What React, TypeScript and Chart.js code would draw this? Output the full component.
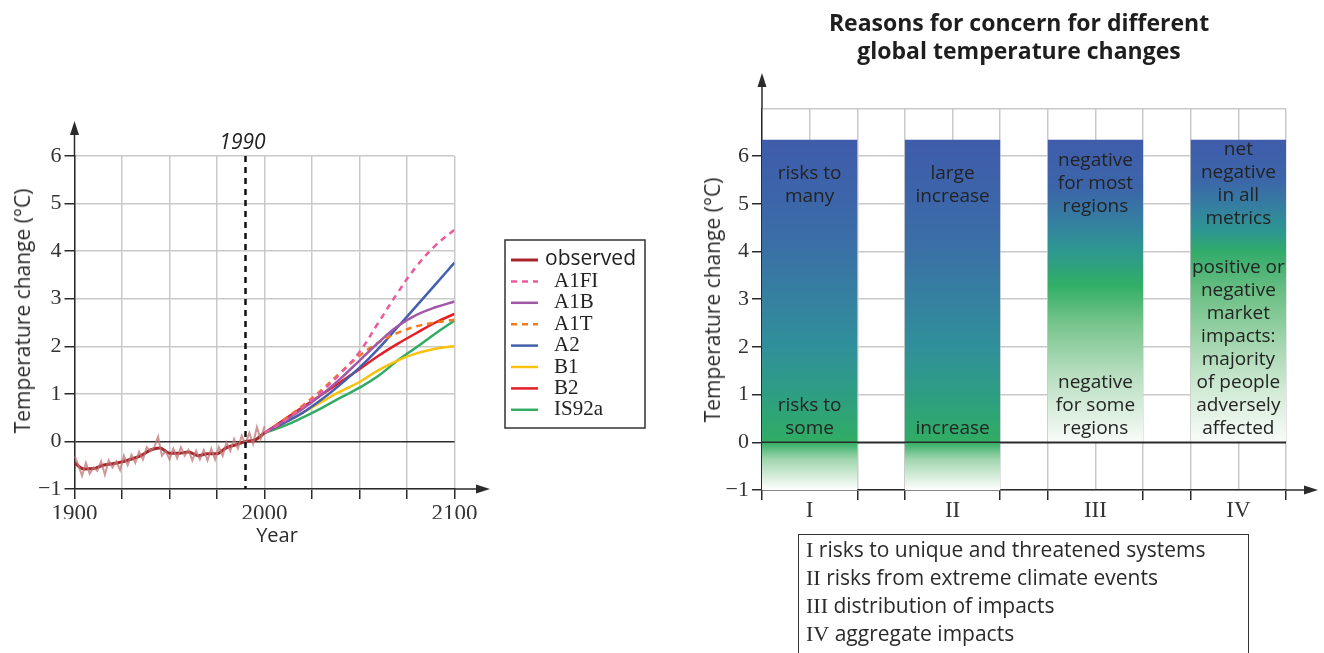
import React, { useEffect, useRef } from 'react';
import { Chart, registerables } from 'chart.js';

Chart.register(...registerables);

// ---------------- Left chart data ----------------
const OBS_ANNUAL_YEARS = [1900, 1902, 1904, 1906, 1908, 1910, 1912, 1914, 1916, 1918, 1920, 1922, 1924, 1926, 1928, 1930, 1932, 1934, 1936, 1938, 1940, 1942, 1944, 1946, 1948, 1950, 1952, 1954, 1956, 1958, 1960, 1962, 1964, 1966, 1968, 1970, 1972, 1974, 1976, 1978, 1980, 1982, 1984, 1986, 1988, 1990, 1992, 1994, 1996, 1998, 2000];
const OBS_ANNUAL = [-0.3, -0.5, -0.72, -0.45, -0.68, -0.55, -0.62, -0.42, -0.7, -0.4, -0.55, -0.42, -0.6, -0.3, -0.5, -0.28, -0.45, -0.22, -0.38, -0.12, -0.2, -0.12, 0.1, -0.3, -0.2, -0.38, -0.15, -0.35, -0.12, -0.3, -0.18, -0.4, -0.2, -0.38, -0.18, -0.4, -0.15, -0.38, -0.12, -0.3, -0.02, -0.2, 0.05, -0.15, 0.12, -0.05, 0.18, -0.05, 0.3, 0.05, 0.32];

const OBS_SMOOTH_YEARS = [1900, 1905, 1910, 1915, 1920, 1925, 1930, 1935, 1940, 1945, 1950, 1955, 1960, 1965, 1970, 1975, 1980, 1985, 1990, 1995, 2000];
const OBS_SMOOTH = [-0.45, -0.58, -0.57, -0.5, -0.47, -0.43, -0.37, -0.3, -0.18, -0.14, -0.25, -0.25, -0.22, -0.3, -0.26, -0.26, -0.13, -0.07, 0.0, 0.03, 0.18];

const PROJ_YEARS = [2000, 2010, 2020, 2030, 2040, 2050, 2060, 2070, 2080, 2090, 2100];
const A1FI = [0.18, 0.42, 0.72, 1.05, 1.43, 1.88, 2.5, 3.12, 3.68, 4.12, 4.45];
const A1B = [0.18, 0.42, 0.68, 0.98, 1.32, 1.7, 2.08, 2.42, 2.66, 2.82, 2.94];
const A1T = [0.18, 0.45, 0.75, 1.08, 1.45, 1.8, 2.08, 2.28, 2.42, 2.5, 2.56];
const A2 = [0.18, 0.38, 0.6, 0.88, 1.2, 1.55, 1.95, 2.4, 2.85, 3.3, 3.76];
const B1 = [0.18, 0.38, 0.6, 0.83, 1.05, 1.25, 1.5, 1.7, 1.85, 1.95, 2.0];
const B2 = [0.18, 0.45, 0.72, 0.98, 1.25, 1.52, 1.8, 2.05, 2.28, 2.5, 2.68];
const IS92A = [0.18, 0.32, 0.5, 0.7, 0.92, 1.13, 1.38, 1.7, 1.98, 2.27, 2.54];

const SCENARIO_NAMES = ['A1FI', 'A1B', 'A1T', 'A2', 'B1', 'B2', 'IS92a'];
const SCENARIO_VALUES = [A1FI, A1B, A1T, A2, B1, B2, IS92A];
const SCENARIO_COLORS = ['#ec5a9e', '#a357a8', '#f27a1c', '#4260ad', '#fbc20b', '#e51d25', '#32ab64'];
const SCENARIO_DASHED = [true, false, true, false, false, false, false];

const LEFT_LABELED_YEARS = [1900, 2000, 2100];
const REF_YEAR = 1990;

// ---------------- Right chart data ----------------
const CATEGORIES = ['I', 'II', 'III', 'IV'];
const BAR_HIGH = [6.34, 6.34, 6.34, 6.34];
const BAR_LOW = [-1, -1, 0, 0];
const BAR_UPPER_TEXT = [['risks to', 'many'], ['large', 'increase'], ['negative', 'for most', 'regions'], ['net', 'negative', 'in all', 'metrics']];
const BAR_UPPER_AT = [5.64, 5.64, 5.9, 6.13];
const BAR_LOWER_TEXT = [['risks to', 'some'], ['increase'], ['negative', 'for some', 'regions'], ['positive or', 'negative', 'market', 'impacts:', 'majority', 'of people', 'adversely', 'affected']];
const BAR_LOWER_AT = 0.29;
const CATEGORY_DESCRIPTIONS = ['risks to unique and threatened systems', 'risks from extreme climate events', 'distribution of impacts', 'aggregate impacts'];

// gradient stops (value, colour) per bar
const BAR_STOPS: [number, string][][] = [
  [[6.34, '#3f5cab'], [5, '#3c66a9'], [4, '#3a71a6'], [3, '#3581a0'], [2, '#30909a'], [1, '#2e9e82'], [0, '#30ad64'], [-0.35, '#9fd5ad'], [-1, '#ffffff']],
  [[6.34, '#3f5cab'], [5, '#3c66a9'], [4, '#3a71a6'], [3, '#3581a0'], [2, '#30909a'], [1, '#2e9e82'], [0, '#30ad64'], [-0.35, '#9fd5ad'], [-1, '#ffffff']],
  [[6.34, '#3f5cab'], [5.3, '#3c66a9'], [4.6, '#3480a0'], [4.0, '#2e9890'], [3.3, '#30ae66'], [2.5, '#76c48b'], [1.5, '#b3dcbc'], [0.5, '#e1f1e4'], [0, '#f9fcf9']],
  [[6.34, '#3f5cab'], [5.5, '#3c66a9'], [4.9, '#3480a0'], [4.4, '#2e9890'], [4.0, '#31ab6a'], [3.2, '#68be82'], [2, '#a7d7b1'], [1, '#d5ecd9'], [0, '#f9fcf9']],
];

const SANS = "'Open Sans', 'DejaVu Sans', sans-serif";
const SERIF = "'Liberation Serif', 'DejaVu Serif', serif";
const AXIS_COLOR = '#2b2b2b';
const GRID_COLOR = '#c9c9c9';

const BAR_POS = CATEGORIES.map((_, i) => 1 + 3 * i);

function arrowUp(ctx: CanvasRenderingContext2D, x: number, yFrom: number, yTip: number) {
  ctx.save();
  ctx.strokeStyle = AXIS_COLOR;
  ctx.fillStyle = AXIS_COLOR;
  ctx.lineWidth = 1.5;
  ctx.beginPath();
  ctx.moveTo(x, yFrom);
  ctx.lineTo(x, yTip + 10);
  ctx.stroke();
  ctx.beginPath();
  ctx.moveTo(x, yTip);
  ctx.lineTo(x - 4.5, yTip + 14);
  ctx.lineTo(x + 4.5, yTip + 14);
  ctx.closePath();
  ctx.fill();
  ctx.restore();
}

function arrowRight(ctx: CanvasRenderingContext2D, y: number, xFrom: number, xTip: number) {
  ctx.save();
  ctx.strokeStyle = AXIS_COLOR;
  ctx.fillStyle = AXIS_COLOR;
  ctx.lineWidth = 1.5;
  ctx.beginPath();
  ctx.moveTo(xFrom, y);
  ctx.lineTo(xTip - 10, y);
  ctx.stroke();
  ctx.beginPath();
  ctx.moveTo(xTip, y);
  ctx.lineTo(xTip - 14, y - 4.5);
  ctx.lineTo(xTip - 14, y + 4.5);
  ctx.closePath();
  ctx.fill();
  ctx.restore();
}

const fmtTick = (v: number) => (v < 0 ? '\u2212' + Math.abs(v) : String(v));

const leftDecor = {
  id: 'leftDecor',
  afterDatasetsDraw(chart: any) {
    const { ctx, chartArea, scales } = chart;
    const x = scales.x.getPixelForValue(REF_YEAR);
    ctx.save();
    ctx.strokeStyle = '#111';
    ctx.lineWidth = 2.5;
    ctx.setLineDash([6, 5]);
    ctx.beginPath();
    ctx.moveTo(x, chartArea.top);
    ctx.lineTo(x, chartArea.bottom);
    ctx.stroke();
    ctx.setLineDash([]);
    ctx.fillStyle = '#222';
    ctx.font = `italic 21px ${SANS}`;
    ctx.textAlign = 'center';
    ctx.textBaseline = 'middle';
    ctx.fillText(String(REF_YEAR), x - 3, chartArea.top - 13);
    ctx.restore();
  },
  afterDraw(chart: any) {
    const { ctx, chartArea } = chart;
    arrowUp(ctx, chartArea.left, chartArea.top, 121);
    arrowRight(ctx, chartArea.bottom, chartArea.right, 490);
    // legend
    ctx.save();
    ctx.strokeStyle = '#333';
    ctx.lineWidth = 1.5;
    ctx.strokeRect(505, 240, 140, 188);
    const items = chart.data.datasets.filter((d: any) => d.label !== 'observed annual');
    items.forEach((d: any, i: number) => {
      const y = 260 + i * 21.4;
      ctx.strokeStyle = d.borderColor;
      ctx.lineWidth = d.label === 'observed' ? 3 : 2.5;
      ctx.setLineDash(d.borderDash || []);
      ctx.beginPath();
      ctx.moveTo(511, y);
      ctx.lineTo(538, y);
      ctx.stroke();
      ctx.setLineDash([]);
      ctx.fillStyle = '#222';
      ctx.textAlign = 'left';
      ctx.textBaseline = 'middle';
      if (d.label === 'observed') {
        ctx.font = `21px ${SANS}`;
        ctx.fillText(d.label, 545, y - 1);
      } else {
        ctx.font = `21px ${SERIF}`;
        ctx.fillText(d.label, 554, y);
      }
    });
    ctx.restore();
  },
};

const rightDecor = {
  id: 'rightDecor',
  afterDatasetsDraw(chart: any) {
    const { ctx, chartArea, scales } = chart;
    const y0 = scales.y.getPixelForValue(0);
    ctx.save();
    ctx.strokeStyle = AXIS_COLOR;
    ctx.lineWidth = 1.5;
    ctx.beginPath();
    ctx.moveTo(chartArea.left, y0);
    ctx.lineTo(chartArea.right, y0);
    ctx.stroke();
    ctx.fillStyle = '#232323';
    ctx.font = `19px ${SANS}`;
    ctx.textAlign = 'center';
    ctx.textBaseline = 'middle';
    const LINE = 23;
    CATEGORIES.forEach((_, i) => {
      const cx = scales.x.getPixelForValue(BAR_POS[i]);
      const top = scales.y.getPixelForValue(BAR_UPPER_AT[i]);
      BAR_UPPER_TEXT[i].forEach((t, k) => ctx.fillText(t, cx, top + k * LINE));
      const last = scales.y.getPixelForValue(BAR_LOWER_AT);
      const n = BAR_LOWER_TEXT[i].length;
      BAR_LOWER_TEXT[i].forEach((t, k) => ctx.fillText(t, cx, last - (n - 1 - k) * LINE));
    });
    ctx.restore();
  },
  afterDraw(chart: any) {
    const { ctx, chartArea } = chart;
    arrowUp(ctx, chartArea.left, chartArea.top, 73);
    arrowRight(ctx, chartArea.bottom, chartArea.right, 658);
  },
};

function barGradient(ctx: any) {
  const chart = ctx.chart;
  const i = ctx.dataIndex;
  if (!chart.chartArea || i === undefined) return '#3f5cab';
  const y = chart.scales.y;
  const stops = BAR_STOPS[i];
  const top = stops[0][0];
  const bot = stops[stops.length - 1][0];
  const g = chart.ctx.createLinearGradient(0, y.getPixelForValue(top), 0, y.getPixelForValue(bot));
  stops.forEach(([v, c]) => g.addColorStop((top - v) / (top - bot), c));
  return g;
}

export default function App() {
  const leftRef = useRef<HTMLCanvasElement>(null);
  const rightRef = useRef<HTMLCanvasElement>(null);

  useEffect(() => {
    const scenarioSets = SCENARIO_NAMES.map((name, s) => ({
      label: name,
      data: PROJ_YEARS.map((x, i) => ({ x, y: SCENARIO_VALUES[s][i] })),
      borderColor: SCENARIO_COLORS[s],
      borderWidth: 2.5,
      borderDash: SCENARIO_DASHED[s] ? [6, 5] : undefined,
      pointRadius: 0,
      tension: 0.4,
    }));

    const left = new Chart(leftRef.current!, {
      type: 'line',
      data: {
        datasets: [
          {
            label: 'observed annual',
            data: OBS_ANNUAL_YEARS.map((x, i) => ({ x, y: OBS_ANNUAL[i] })),
            borderColor: 'rgba(190,118,118,0.75)',
            borderWidth: 2,
            pointRadius: 0,
            tension: 0,
          },
          {
            label: 'observed',
            data: OBS_SMOOTH_YEARS.map((x, i) => ({ x, y: OBS_SMOOTH[i] })),
            borderColor: '#a82428',
            borderWidth: 3,
            pointRadius: 0,
            tension: 0.4,
            cubicInterpolationMode: 'monotone',
          },
          ...scenarioSets,
        ] as any,
      },
      options: {
        animation: false,
        responsive: false,
        devicePixelRatio: 1,
        layout: { padding: { left: 0, top: 156, right: 660 - 454.5, bottom: 41 } },
        plugins: { legend: { display: false }, tooltip: { enabled: false } },
        scales: {
          x: {
            type: 'linear',
            min: 1900,
            max: 2100,
            ticks: {
              stepSize: 25,
              autoSkip: false,
              maxRotation: 0,
              padding: 1,
              color: '#333',
              font: { family: SERIF, size: 23 },
              callback: (v: any) => (LEFT_LABELED_YEARS.includes(v) ? String(v) : ''),
            },
            grid: { color: GRID_COLOR, lineWidth: 1.5, tickLength: 10, tickColor: AXIS_COLOR, tickWidth: 1.5 },
            border: { color: AXIS_COLOR, width: 1.5 },
            afterFit: (s: any) => { s.height = 30; },
          },
          y: {
            type: 'linear',
            min: -1,
            max: 6,
            ticks: {
              stepSize: 1,
              padding: 3,
              color: '#333',
              font: { family: SERIF, size: 22 },
              callback: (v: any) => fmtTick(v),
            },
            grid: {
              color: (c: any) => (c.tick && c.tick.value === 0 ? AXIS_COLOR : GRID_COLOR),
              lineWidth: 1.5,
              tickLength: 10,
              tickColor: AXIS_COLOR,
              tickWidth: 1.5,
            },
            border: { color: AXIS_COLOR, width: 1.5 },
            afterFit: (s: any) => { s.width = 74.5; },
          },
        },
      } as any,
      plugins: [leftDecor],
    });

    const right = new Chart(rightRef.current!, {
      type: 'bar',
      data: {
        datasets: [
          {
            label: 'concern',
            data: CATEGORIES.map((_, i) => ({ x: BAR_POS[i], y: [BAR_LOW[i], BAR_HIGH[i]] })),
            backgroundColor: barGradient,
            borderWidth: 0,
            categoryPercentage: 1,
            barPercentage: 2,
          },
        ] as any,
      },
      options: {
        animation: false,
        responsive: false,
        devicePixelRatio: 1,
        layout: { padding: { left: 0, top: 108.3, right: 38, bottom: 123 } },
        plugins: { legend: { display: false }, tooltip: { enabled: false } },
        scales: {
          x: {
            type: 'linear',
            offset: false,
            min: 0,
            max: 3 * CATEGORIES.length - 1,
            ticks: {
              stepSize: 1,
              autoSkip: false,
              maxRotation: 0,
              padding: -3,
              color: '#333',
              font: { family: SERIF, size: 23 },
              callback: (v: any) => {
                const k = BAR_POS.indexOf(v);
                return k >= 0 ? CATEGORIES[k] : '';
              },
            },
            grid: {
              offset: false,
              color: GRID_COLOR,
              lineWidth: 1.5,
              tickLength: 10,
              tickWidth: 1.5,
              tickColor: (c: any) => (c.tick && BAR_POS.includes(c.tick.value) ? 'rgba(0,0,0,0)' : AXIS_COLOR),
            },
            border: { color: AXIS_COLOR, width: 1.5 },
            afterFit: (s: any) => { s.height = 40; },
          },
          y: {
            type: 'linear',
            min: -1,
            max: 7,
            ticks: {
              stepSize: 1,
              padding: 3,
              color: '#333',
              font: { family: SERIF, size: 22 },
              callback: (v: any) => (v >= 7 ? '' : fmtTick(v)),
            },
            grid: {
              color: (c: any) => (c.tick && c.tick.value === 0 ? AXIS_COLOR : GRID_COLOR),
              lineWidth: 1.5,
              tickLength: 10,
              tickWidth: 1.5,
              tickColor: (c: any) => (c.tick && c.tick.value >= 7 ? 'rgba(0,0,0,0)' : AXIS_COLOR),
            },
            border: { color: AXIS_COLOR, width: 1.5 },
            afterFit: (s: any) => { s.width = 102; },
          },
        },
      } as any,
      plugins: [rightDecor],
    });

    return () => {
      left.destroy();
      right.destroy();
    };
  }, []);

  const rotTitle = (cx: number, cy: number) => ({
    position: 'absolute' as const,
    left: cx,
    top: cy,
    transform: 'translate(-50%, -50%) rotate(-90deg)',
    whiteSpace: 'nowrap' as const,
    fontFamily: SANS,
    fontSize: 21,
    color: '#2a2a2a',
  });

  return (
    <div style={{ position: 'absolute', left: 0, top: 0, width: 1324, height: 653, overflow: 'hidden', background: '#fff' }}>
      <canvas ref={leftRef} width={660} height={560} style={{ position: 'absolute', left: 0, top: 0 }} />
      <canvas ref={rightRef} width={664} height={653} style={{ position: 'absolute', left: 660, top: 0 }} />
      <div style={rotTitle(22, 311)}>Temperature change (°C)</div>
      <div style={rotTitle(712, 300)}>Temperature change (°C)</div>
      <div style={{ position: 'absolute', left: 277, top: 534, transform: 'translate(-50%, -50%)', fontFamily: SANS, fontSize: 20, color: '#2a2a2a' }}>Year</div>
      <div style={{ position: 'absolute', left: 1019, top: 36, transform: 'translate(-50%, -50%)', fontFamily: SANS, fontWeight: 700, fontSize: 23, lineHeight: '28px', textAlign: 'center', color: '#1e1e1e', whiteSpace: 'nowrap' }}>
        Reasons for concern for different
        <br />
        global temperature changes
      </div>
      <div style={{ position: 'absolute', left: 798, top: 534, width: 451, height: 140, border: '1.5px solid #333', boxSizing: 'border-box', paddingTop: 0, paddingLeft: 7 }}>
        {CATEGORIES.map((c, i) => (
          <div key={c} style={{ height: 28, lineHeight: '28px', whiteSpace: 'nowrap', color: '#2a2a2a' }}>
            <span style={{ fontFamily: SERIF, fontSize: 22 }}>{c}</span>
            <span style={{ fontFamily: SANS, fontSize: 21 }}> {CATEGORY_DESCRIPTIONS[i]}</span>
          </div>
        ))}
      </div>
    </div>
  );
}
